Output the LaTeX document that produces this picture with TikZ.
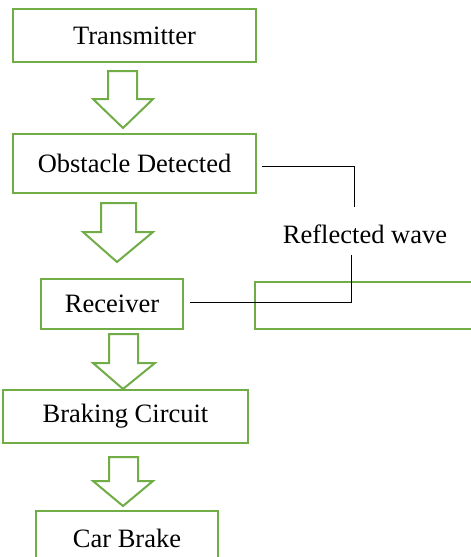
\documentclass[tikz,border=0pt]{standalone}
\usepackage{fontspec}
\setmainfont{Liberation Serif}
\definecolor{boxgreen}{RGB}{112,173,71}
\begin{document}
\begin{tikzpicture}[x=1pt,y=-1pt,
  gbox/.style={draw=boxgreen,line width=2pt,rectangle,inner sep=0pt,
    font=\fontsize{26.5}{30}\selectfont,text=black},
  garrow/.style={draw=boxgreen,line width=2pt,line join=miter},
  wire/.style={draw=black,line width=1pt},
  lbl/.style={font=\fontsize{26.5}{30}\selectfont,inner sep=0pt}]
\useasboundingbox (0,0) rectangle (471,557);
\fill[white] (0,0) rectangle (471,557);
\node[gbox,minimum width=243pt,minimum height=53pt] (tx) at (134.5,35.5) {Transmitter};
\node[gbox,minimum width=243pt,minimum height=59pt] (obs) at (134.5,163.5) {Obstacle Detected};
\node[gbox,minimum width=142pt,minimum height=50pt] (rx) at (112,304) {Receiver};
\node[gbox,minimum width=225pt,minimum height=47pt] (side) at (367.5,305.5) {};
\node[gbox,minimum width=245pt,minimum height=53pt] (brk) at (125.5,416.5) {Braking Circuit};
\node[gbox,minimum width=182pt,minimum height=54pt] (car) at (127,538) {Car Brake};
\node[lbl] (lab) at (365,234) {Reflected wave};
% block arrows
\draw[garrow] (108,71) -- (137,71) -- (137,99) -- (153,99) -- (123,128) -- (93,99) -- (108,99) -- cycle;
\draw[garrow] (101,203) -- (136,203) -- (136,232) -- (153,232) -- (117,262) -- (83,232) -- (101,232) -- cycle;
\draw[garrow] (109,334) -- (138,334) -- (138,363) -- (155,363) -- (123,389) -- (93,363) -- (109,363) -- cycle;
\draw[garrow] (109,457) -- (138,457) -- (138,481) -- (153,481) -- (123,506) -- (93,481) -- (109,481) -- cycle;
% reflected wave connectors
\coordinate (c1) at (354,207);
\coordinate (c2) at (351,255);
\draw[wire] ([shift={(5,2.5)}]obs.east) -| (c1);
\draw[wire] (c2) |- ([shift={(6,-2)}]rx.east);
\end{tikzpicture}
\end{document}
